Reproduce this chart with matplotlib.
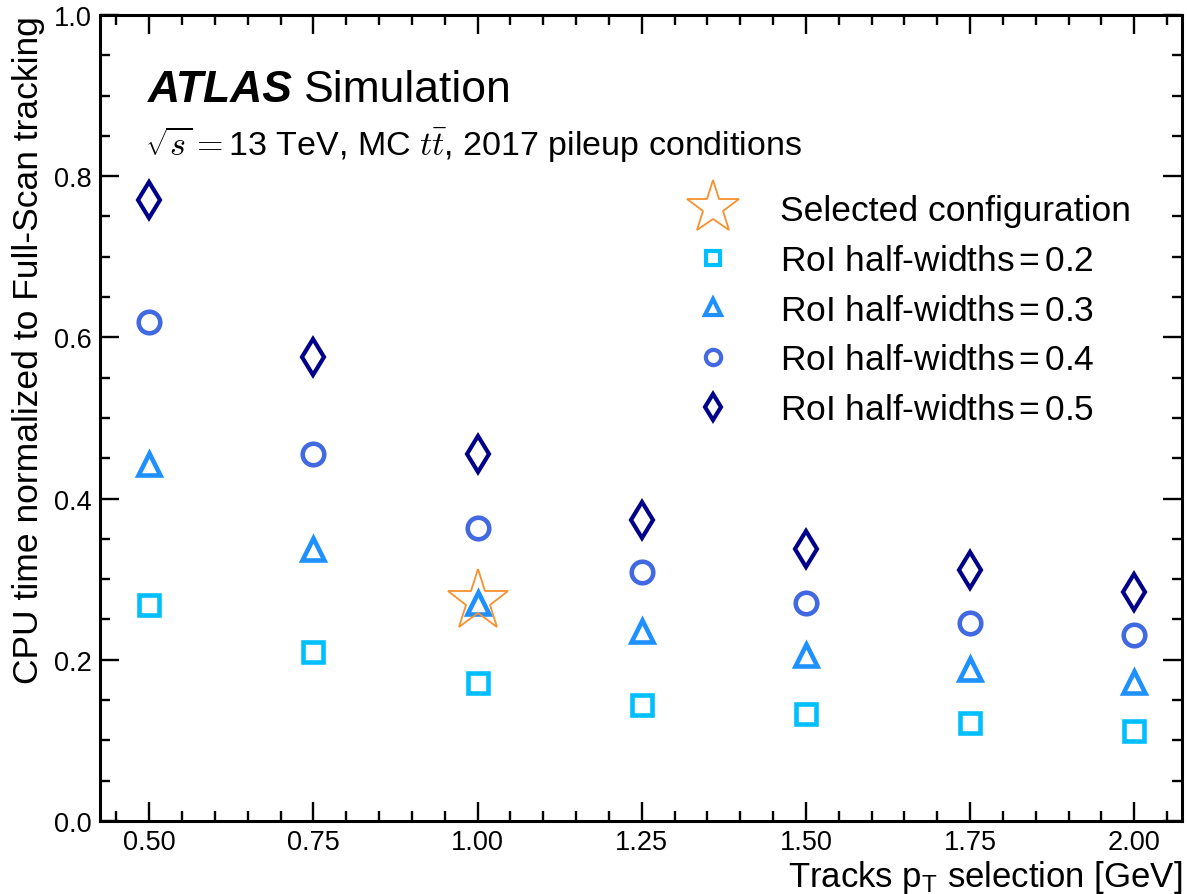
import matplotlib
matplotlib.use("Agg")
import matplotlib.pyplot as plt
from matplotlib.lines import Line2D
from matplotlib.ticker import MultipleLocator

plt.rcParams['font.family'] = ['Liberation Sans', 'DejaVu Sans']
plt.rcParams['mathtext.fontset'] = 'custom'
plt.rcParams['mathtext.rm'] = 'Liberation Sans'
plt.rcParams['mathtext.it'] = 'Liberation Sans:italic'
plt.rcParams['mathtext.bf'] = 'Liberation Sans:bold'

# Data
pt_cuts = [0.50, 0.75, 1.00, 1.25, 1.50, 1.75, 2.00]
roi_02 = [0.268, 0.210, 0.171, 0.144, 0.133, 0.122, 0.112]
roi_03 = [0.443, 0.337, 0.271, 0.236, 0.206, 0.188, 0.173]
roi_04 = [0.619, 0.455, 0.364, 0.309, 0.271, 0.245, 0.231]
roi_05 = [0.771, 0.575, 0.455, 0.374, 0.337, 0.311, 0.284]
selected_x = [1.00]
selected_y = [0.273]
xtick_labels = ["0.50", "0.75", "1.00", "1.25", "1.50", "1.75", "2.00"]

fig = plt.figure(figsize=(11.87, 8.95), dpi=100)
ax = fig.add_axes([0.0842, 0.0816, 0.9117, 0.9006])

c02, c03, c04, c05, cstar = '#00BFFF', '#1E90FF', '#4169E1', '#00008B', '#F7912F'

ax.plot(pt_cuts, roi_02, ls='none', marker='s', ms=15, mfc='none', mec=c02, mew=3.3)
ax.plot(pt_cuts, roi_03, ls='none', marker='^', ms=16, mfc='none', mec=c03, mew=3.3)
ax.plot(pt_cuts, roi_04, ls='none', marker='o', ms=15.5, mfc='none', mec=c04, mew=3.3)
ax.plot(pt_cuts, roi_05, ls='none', marker='d', ms=18, mfc='none', mec=c05, mew=3.0)
ax.plot(selected_x, selected_y, ls='none', marker='*', ms=46, mfc='none', mec=cstar, mew=1.3)

ax.set_xlim(0.425, 2.073)
ax.set_ylim(0.0, 1.0)
ax.set_xticks(pt_cuts)
ax.set_xticklabels(xtick_labels)
ax.xaxis.set_minor_locator(MultipleLocator(0.05))
ax.yaxis.set_major_locator(MultipleLocator(0.2))
ax.yaxis.set_minor_locator(MultipleLocator(0.05))
ax.tick_params(which='both', direction='in', top=True, right=True, labelsize=19.5, width=1.7)
ax.tick_params(which='major', length=13.5, pad=6)
ax.tick_params(which='minor', length=7)
for s in ax.spines.values():
    s.set_linewidth(2.2)

ax.set_xlabel(r"Tracks p$_{\rm T}$ selection [GeV]", fontsize=25, loc='right', labelpad=2)
ax.set_ylabel("CPU time normalized to Full-Scan tracking", fontsize=25.5, loc='top', labelpad=6)

t1 = ax.text(0.044, 0.893, "ATLAS", transform=ax.transAxes, fontsize=32,
             fontweight='bold', fontstyle='italic')
fig.canvas.draw()
bb = t1.get_window_extent()
x_end = ax.transAxes.inverted().transform((bb.x1 + 12, bb.y0))[0]
ax.text(x_end, 0.893, "Simulation", transform=ax.transAxes, fontsize=32)
ax.text(0.042, 0.826, r"$\sqrt{s}{=}$13 TeV, MC $t\bar{t}$, 2017 pileup conditions",
        transform=ax.transAxes, fontsize=24.5, math_fontfamily='cm')

handles = [
    Line2D([], [], ls='none', marker='*', ms=40, mfc='none', mec=cstar, mew=1.3),
    Line2D([], [], ls='none', marker='s', ms=10, mfc='none', mec=c02, mew=3),
    Line2D([], [], ls='none', marker='^', ms=11, mfc='none', mec=c03, mew=3),
    Line2D([], [], ls='none', marker='o', ms=11, mfc='none', mec=c04, mew=3),
    Line2D([], [], ls='none', marker='d', ms=13, mfc='none', mec=c05, mew=3),
]
labels = ["Selected configuration",
          r"RoI half-widths$\,$=$\,$0.2",
          r"RoI half-widths$\,$=$\,$0.3",
          r"RoI half-widths$\,$=$\,$0.4",
          r"RoI half-widths$\,$=$\,$0.5"]
ax.legend(handles, labels, loc='upper left', bbox_to_anchor=(0.527, 0.795),
          frameon=False, fontsize=25.5, handlelength=1.6, handletextpad=1.1,
          labelspacing=0.47, borderaxespad=0)

fig.savefig("out.png", dpi=100)
